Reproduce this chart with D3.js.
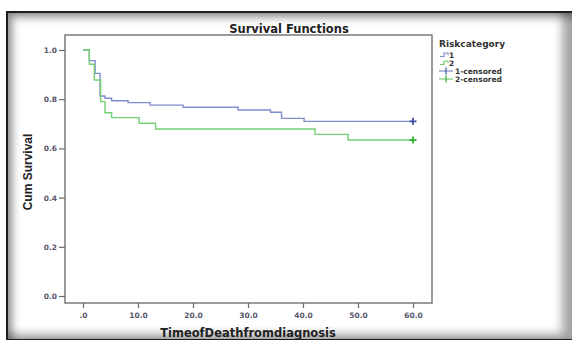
<!DOCTYPE html>
<html>
<head>
<meta charset="utf-8">
<script src="https://cdn.jsdelivr.net/npm/d3@7"></script>
<style>
  html, body { margin: 0; padding: 0; background: #fff; }
  body { width: 572px; height: 340px; position: relative; overflow: hidden; }
  #frame {
    position: absolute; left: 6px; top: 11px; width: 566px; height: 326px;
    border: 2px solid #1c1c1c; border-right: none;
    box-shadow: inset 4px 4px 9px rgba(0,0,0,0.45), inset -12px -5px 10px rgba(0,0,0,0.35);
    background: #fff;
  }
  svg { position: absolute; left: 0; top: 0; }
</style>
</head>
<body>
<div id="frame"></div>
<svg id="chart" width="572" height="340"></svg>
<script>
// Kaplan-Meier step data: event times and survival after each step
const group1Times = [0, 1.15, 2.2, 3.1, 4.0, 5.2, 8.2, 12.2, 18.2, 28.2, 34.1, 36.1, 40.2, 60];
const group1Surv  = [1.0, 0.957, 0.905, 0.813, 0.804, 0.794, 0.786, 0.776, 0.767, 0.756, 0.747, 0.722, 0.710, 0.710];
const group2Times = [0, 1.15, 2.05, 3.2, 4.0, 5.2, 10.2, 13.2, 42.2, 48.2, 60];
const group2Surv  = [1.0, 0.942, 0.878, 0.790, 0.745, 0.725, 0.702, 0.679, 0.657, 0.634, 0.634];
const censorTimes = [60, 60];
const censorSurv  = [0.710, 0.634];

const xTicks = [0, 10, 20, 30, 40, 50, 60];
const xTickLabels = [".0", "10.0", "20.0", "30.0", "40.0", "50.0", "60.0"];
const yTicks = [0, 0.2, 0.4, 0.6, 0.8, 1.0];
const yTickLabels = ["0.0", "0.2", "0.4", "0.6", "0.8", "1.0"];
const legendLabels = ["1", "2", "1-censored", "2-censored"];

const lineColors = ["#7f8ccf", "#74cf74"];
const censorColors = ["#3f4fa6", "#2fae2f"];

const svg = d3.select("#chart");
const plot = { left: 65, top: 35, right: 432, bottom: 303 };

const x = d3.scaleLinear().domain([0, 60]).range([83, 413]);
const y = d3.scaleLinear().domain([0, 1]).range([296, 50]);

// plot frame
svg.append("rect")
  .attr("x", plot.left).attr("y", plot.top)
  .attr("width", plot.right - plot.left).attr("height", plot.bottom - plot.top)
  .attr("fill", "#fff").attr("stroke", "#7a7a7a").attr("stroke-width", 1.5);

const tickFont = "DejaVu Sans, sans-serif";

// y axis
const yAxis = d3.axisLeft(y).tickValues(yTicks)
  .tickFormat((d, i) => yTickLabels[i]).tickSize(6).tickPadding(2);
const gy = svg.append("g").attr("transform", `translate(${plot.left},0)`).call(yAxis);
gy.select(".domain").remove();
gy.selectAll(".tick line").attr("stroke", "#6a6a6a").attr("stroke-width", 1.2);
gy.selectAll(".tick text").attr("font-family", tickFont).attr("font-size", 7.5)
  .attr("font-weight", "bold").attr("fill", "#56566a");

// x axis
const xAxis = d3.axisBottom(x).tickValues(xTicks)
  .tickFormat((d, i) => xTickLabels[i]).tickSize(5).tickPadding(5);
const gx = svg.append("g").attr("transform", `translate(0,${plot.bottom})`).call(xAxis);
gx.select(".domain").remove();
gx.selectAll(".tick line").attr("stroke", "#6a6a6a").attr("stroke-width", 1.2);
gx.selectAll(".tick text").attr("font-family", tickFont).attr("font-size", 7.5)
  .attr("font-weight", "bold").attr("fill", "#56566a");

// survival step curves
const step = d3.line().x(d => x(d[0])).y(d => y(d[1])).curve(d3.curveStepAfter);
[[group1Times, group1Surv], [group2Times, group2Surv]].forEach(([t, s], i) => {
  svg.append("path")
    .datum(t.map((v, k) => [v, s[k]]))
    .attr("d", step)
    .attr("fill", "none")
    .attr("stroke", lineColors[i])
    .attr("stroke-width", 1.4);
});

// censoring marks
censorTimes.forEach((t, i) => {
  const cx = x(t), cy = y(censorSurv[i]);
  svg.append("path")
    .attr("d", `M${cx - 3.5},${cy}H${cx + 3.5}M${cx},${cy - 3.5}V${cy + 3.5}`)
    .attr("stroke", censorColors[i]).attr("stroke-width", 1.8);
});

// titles
svg.append("text").attr("x", 289).attr("y", 33).attr("text-anchor", "middle")
  .attr("font-family", tickFont).attr("font-weight", "bold").attr("font-size", 11.5)
  .attr("fill", "#222").text("Survival Functions");
svg.append("text").attr("x", 248).attr("y", 337).attr("text-anchor", "middle")
  .attr("font-family", tickFont).attr("font-weight", "bold").attr("font-size", 11.5)
  .attr("fill", "#222").text("TimeofDeathfromdiagnosis");
svg.append("text").attr("transform", "translate(32,172) rotate(-90)").attr("text-anchor", "middle")
  .attr("font-family", "Liberation Sans Narrow, Arial Narrow, sans-serif").attr("font-weight", "bold")
  .attr("font-size", 12).attr("fill", "#222").text("Cum Survival");

// legend
const lg = svg.append("g");
lg.append("text").attr("x", 439).attr("y", 47)
  .attr("font-family", tickFont).attr("font-weight", "bold").attr("font-size", 9)
  .attr("fill", "#333").text("Riskcategory");
const rowY = [55, 63, 71, 79];
legendLabels.forEach((lab, i) => {
  const ry = rowY[i];
  if (i < 2) {
    lg.append("path")
      .attr("d", `M440,${ry + 1.5}H444V${ry - 2}H448V${ry}`)
      .attr("fill", "none").attr("stroke", lineColors[i]).attr("stroke-width", 1.2);
    lg.append("text").attr("x", 449).attr("y", ry + 3)
      .attr("font-family", tickFont).attr("font-weight", "bold").attr("font-size", 7.5)
      .attr("fill", "#333").text(lab);
  } else {
    const c = i - 2;
    lg.append("path").attr("d", `M439,${ry}H453`)
      .attr("stroke", lineColors[c]).attr("stroke-width", 1.2);
    lg.append("path").attr("d", `M446,${ry - 3.5}V${ry + 3.5}`)
      .attr("stroke", censorColors[c]).attr("stroke-width", 1.2);
    lg.append("text").attr("x", 455).attr("y", ry + 3)
      .attr("font-family", tickFont).attr("font-weight", "bold").attr("font-size", 7.5)
      .attr("fill", "#333").text(lab);
  }
});
</script>
</body>
</html>
